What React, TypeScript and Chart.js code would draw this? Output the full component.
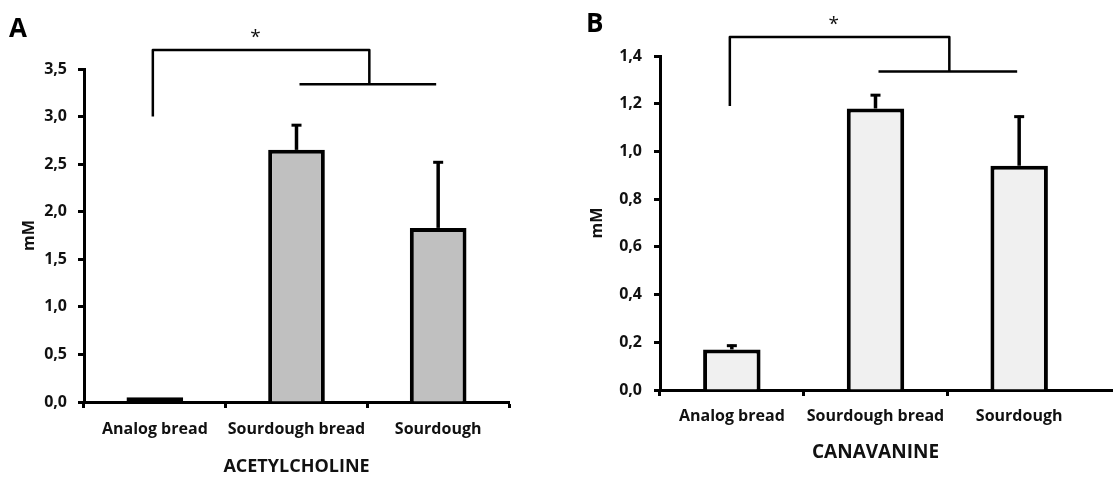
import React, { useEffect, useRef } from "react";
import { Chart, registerables } from "chart.js";

Chart.register(...registerables);

// ---- data ----
const categories = ["Analog bread", "Sourdough bread", "Sourdough"];

const acetylcholineMean = [0.05, 2.65, 1.83];
const acetylcholineSd = [0, 0.27, 0.7];
const acetylcholineTicks = [0, 0.5, 1.0, 1.5, 2.0, 2.5, 3.0, 3.5];

const canavanineMean = [0.17, 1.18, 0.94];
const canavanineSd = [0.02, 0.06, 0.21];
const canavanineTicks = [0, 0.2, 0.4, 0.6, 0.8, 1.0, 1.2, 1.4];

// significance bracket levels in mM: [leg start, bracket top, joined line, star]
const acetylcholineBracket = [3.0, 3.7, 3.34, 3.87];
const canavanineBracket = [1.19, 1.48, 1.335, 1.55];

const FONT = "'Open Sans', 'DejaVu Sans', sans-serif";
const TEXT = "#111";

const fmt = (v: number) => v.toFixed(1).replace(".", ",");

type Panel = {
  letter: string;
  title: string;
  means: number[];
  sds: number[];
  ticks: number[];
  bracket: number[];
  fill: string;
  canvasLeft: number;
  canvasWidth: number;
  area: { left: number; top: number; right: number; bottom: number };
  yTitleOffset: number;
  xTitleOffset: number;
  yTickPad: number;
  xTickPad: number;
  titleSize: number;
  letterPos: [number, number];
  extendAxis: boolean;
};

const HEIGHT = 489;

const panels: Panel[] = [
  {
    letter: "A",
    title: "ACETYLCHOLINE",
    means: acetylcholineMean,
    sds: acetylcholineSd,
    ticks: acetylcholineTicks,
    bracket: acetylcholineBracket,
    fill: "#c0c0c0",
    canvasLeft: 0,
    canvasWidth: 556,
    area: { left: 84, top: 69, right: 509, bottom: 402 },
    yTitleOffset: 20,
    xTitleOffset: 11,
    yTickPad: 11,
    xTickPad: 12,
    titleSize: 18,
    letterPos: [9, 30],
    extendAxis: false,
  },
  {
    letter: "B",
    title: "CANAVANINE",
    means: canavanineMean,
    sds: canavanineSd,
    ticks: canavanineTicks,
    bracket: canavanineBracket,
    fill: "#f0f0f0",
    canvasLeft: 556,
    canvasWidth: 600,
    area: { left: 104, top: 56, right: 535, bottom: 390 },
    yTitleOffset: 32,
    xTitleOffset: 25,
    yTickPad: 12,
    xTickPad: 11,
    titleSize: 19,
    letterPos: [30, 25],
    extendAxis: true,
  },
];

function makeOverlay(p: Panel) {
  return {
    id: "overlay" + p.letter,
    afterDatasetsDraw(chart: any) {
      const ctx: CanvasRenderingContext2D = chart.ctx;
      const xs = chart.scales.x;
      const ys = chart.scales.y;
      const meta = chart.getDatasetMeta(0);
      ctx.save();
      ctx.strokeStyle = "#000";
      ctx.fillStyle = TEXT;
      ctx.lineCap = "butt";

      // error bars (upper whisker only)
      p.means.forEach((m, i) => {
        const sd = p.sds[i];
        if (!sd) return;
        const x = meta.data[i].x;
        const y0 = ys.getPixelForValue(m);
        const y1 = ys.getPixelForValue(m + sd);
        ctx.lineWidth = 3.5;
        ctx.beginPath();
        ctx.moveTo(x, y0);
        ctx.lineTo(x, y1);
        ctx.stroke();
        ctx.lineWidth = 3;
        ctx.beginPath();
        ctx.moveTo(x - 5, y1 + 1);
        ctx.lineTo(x + 5, y1 + 1);
        ctx.stroke();
      });

      // significance bracket
      const [legStart, top, joined, star] = p.bracket;
      const xl = xs.getPixelForValue(0) - 2;
      const xr = xs.getPixelForValue(1.5) + 2;
      const x1 = xs.getPixelForValue(1);
      const x2 = xs.getPixelForValue(2);
      ctx.lineWidth = 2.5;
      ctx.lineJoin = "round";
      ctx.beginPath();
      ctx.moveTo(xl, ys.getPixelForValue(legStart));
      ctx.lineTo(xl, ys.getPixelForValue(top));
      ctx.lineTo(xr, ys.getPixelForValue(top));
      ctx.lineTo(xr, ys.getPixelForValue(joined));
      ctx.stroke();
      ctx.beginPath();
      ctx.moveTo(x1 + 3, ys.getPixelForValue(joined));
      ctx.lineTo(x2 - 2, ys.getPixelForValue(joined));
      ctx.stroke();

      ctx.font = `19px ${FONT}`;
      ctx.textAlign = "center";
      ctx.textBaseline = "middle";
      ctx.fillText("*", xs.getPixelForValue(0.71), ys.getPixelForValue(star) + 4);

      // panel letter
      ctx.fillStyle = "#000";
      ctx.font = `bold 26px ${FONT}`;
      ctx.textAlign = "left";
      ctx.textBaseline = "middle";
      ctx.fillText(p.letter, p.letterPos[0], p.letterPos[1]);

      // x axis line continues to the edge
      if (p.extendAxis) {
        const w = 3;
        const yAxis = Math.round(xs.top - w / 2) + w / 2;
        ctx.lineWidth = w;
        ctx.beginPath();
        ctx.moveTo(chart.chartArea.right - 2, yAxis);
        ctx.lineTo(chart.width, yAxis);
        ctx.stroke();
      }
      ctx.restore();
    },
  };
}

function PanelChart({ p }: { p: Panel }) {
  const ref = useRef<HTMLCanvasElement | null>(null);
  useEffect(() => {
    if (!ref.current) return;
    const step = p.ticks[1] - p.ticks[0];
    const yMax = p.ticks[p.ticks.length - 1];
    const chart = new Chart(ref.current, {
      type: "bar",
      data: {
        labels: categories,
        datasets: [
          {
            data: p.means,
            backgroundColor: p.fill,
            borderColor: "#000",
            borderWidth: 4,
            // very short bars get a full outline so they read as a solid sliver
            borderSkipped: (c: any) => (Number(c.raw) / yMax < 0.03 ? false : "start"),
            categoryPercentage: 1,
            barPercentage: 0.4,
          },
        ],
      },
      options: {
        animation: false,
        responsive: false,
        events: [],
        layout: {
          padding: {
            top: p.area.top,
            right: p.canvasWidth - p.area.right,
            left: 0,
            bottom: 0,
          },
        },
        plugins: {
          legend: { display: false },
          tooltip: { enabled: false },
        },
        scales: {
          x: {
            afterFit: (s: any) => {
              s.height = HEIGHT - p.area.bottom;
            },
            grid: {
              display: true,
              drawOnChartArea: false,
              drawTicks: true,
              tickLength: 6,
              tickColor: (c: any) => (p.extendAxis && c.index === undefined ? "rgba(0,0,0,0)" : "#000"),
              tickWidth: 3,
            },
            border: { display: true, color: "#000", width: 3 },
            ticks: {
              color: TEXT,
              padding: p.xTickPad,
              autoSkip: false,
              maxRotation: 0,
              minRotation: 0,
              font: { family: FONT, size: 16, weight: "bold" },
            },
            title: {
              display: true,
              text: p.title,
              color: TEXT,
              font: { family: FONT, size: p.titleSize, weight: "bold" },
              padding: { top: 0, bottom: p.xTitleOffset },
            },
          },
          y: {
            min: p.ticks[0],
            max: yMax,
            afterFit: (s: any) => {
              s.width = p.area.left;
            },
            afterBuildTicks: (s: any) => {
              s.ticks = p.ticks.map((v) => ({ value: v }));
            },
            grid: {
              display: true,
              drawOnChartArea: false,
              drawTicks: true,
              tickLength: 6,
              tickColor: "#000",
              tickWidth: 3,
            },
            border: { display: true, color: "#000", width: 3 },
            ticks: {
              stepSize: step,
              color: TEXT,
              padding: p.yTickPad,
              font: { family: FONT, size: 16, weight: "bold" },
              callback: (v: any) => fmt(Number(v)),
            },
            title: {
              display: true,
              text: "mM",
              color: TEXT,
              font: { family: FONT, size: 16, weight: "bold" },
              padding: { top: p.yTitleOffset, bottom: 0 },
            },
          },
        },
      },
      plugins: [makeOverlay(p)],
    });
    return () => chart.destroy();
  }, [p]);

  return (
    <canvas
      ref={ref}
      width={p.canvasWidth}
      height={HEIGHT}
      style={{
        position: "absolute",
        left: p.canvasLeft,
        top: 0,
        width: p.canvasWidth,
        height: HEIGHT,
      }}
    />
  );
}

export default function App() {
  return (
    <div
      style={{
        position: "fixed",
        left: 0,
        top: 0,
        width: 1113,
        height: HEIGHT,
        overflow: "hidden",
        background: "#fff",
      }}
    >
      {panels.map((p) => (
        <PanelChart key={p.letter} p={p} />
      ))}
    </div>
  );
}
